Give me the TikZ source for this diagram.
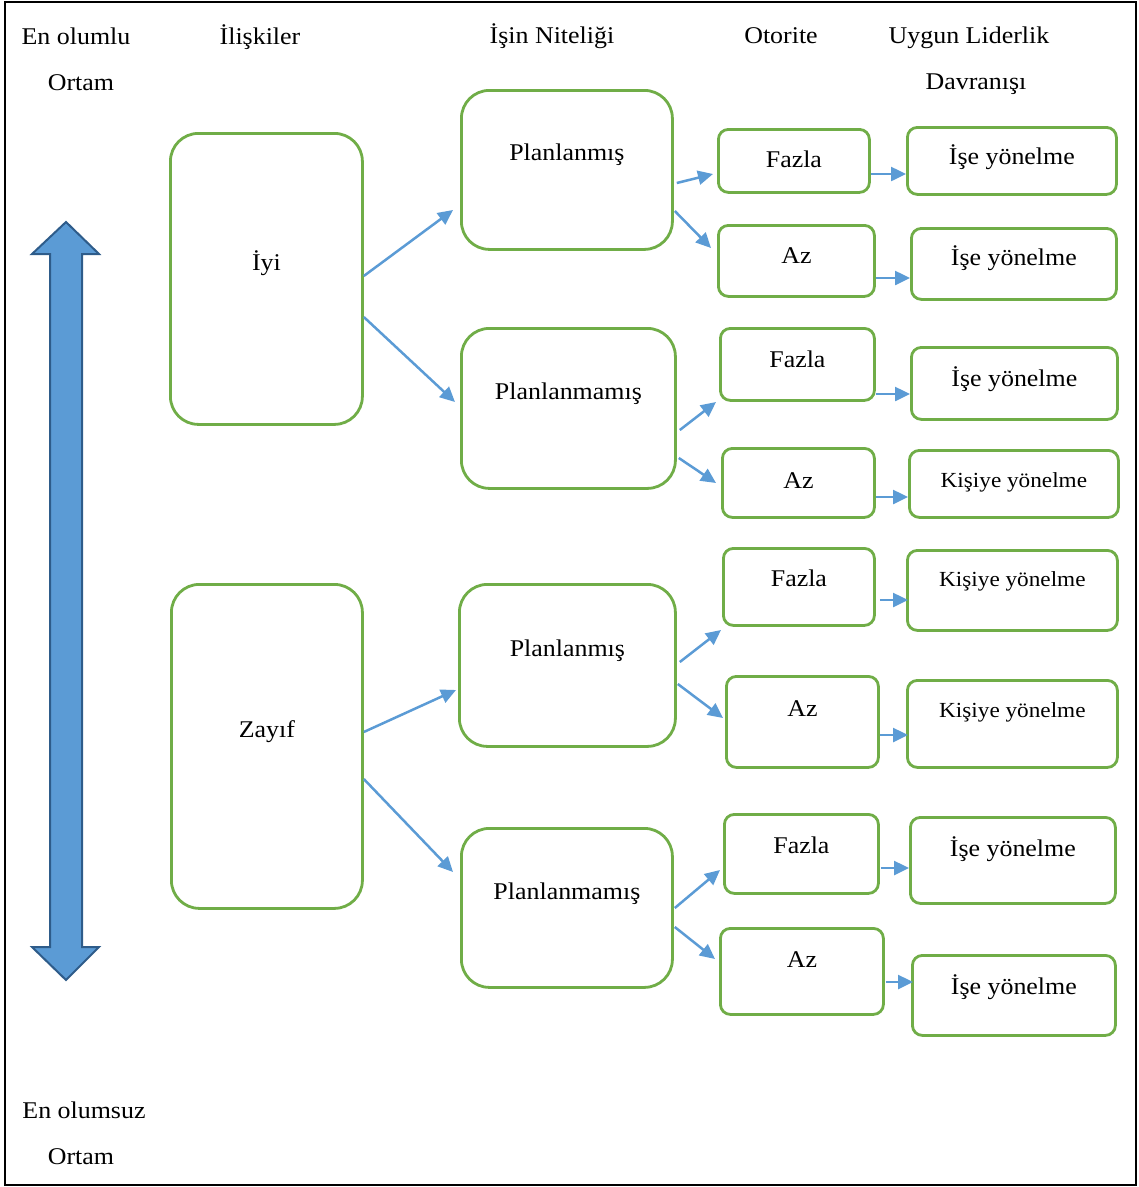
\documentclass[tikz,border=0pt]{standalone}
\usepackage{fontspec}
\setmainfont{Liberation Serif}[FakeStretch=1.08]
\usetikzlibrary{arrows.meta,calc}
\definecolor{boxgreen}{HTML}{70AD47}
\definecolor{arrblue}{HTML}{5B9BD5}
\definecolor{arrborder}{HTML}{2E5C8A}
\begin{document}
\begin{tikzpicture}[x=1pt,y=-1pt,
  box/.style={draw=boxgreen, line width=2.8pt, fill=white, inner sep=0pt, anchor=north west, font=\fontsize{24}{28}\selectfont},
  bigbox/.style={box, rounded corners=28pt},
  smallbox/.style={box, rounded corners=10pt},
  smalltext/.style={font=\fontsize{21.5}{26}\selectfont},
  conn/.style={draw=arrblue, line width=2.5pt, -{Triangle[length=15pt,width=14pt]}},
  hdr/.style={anchor=base, inner sep=0pt, font=\fontsize{24}{28}\selectfont}]
\useasboundingbox (0,0) rectangle (1139,1187);
\draw[line width=2pt] (5,2) rectangle (1136,1185);

% headers
\node[hdr] (h1) at (76,44) {En olumlu};
\node[hdr] (h1b) at (81,90) {Ortam};
\node[hdr] (h2) at (260,44) {İlişkiler};
\node[hdr] (h3) at (552,43) {İşin Niteliği};
\node[hdr] (h4) at (781,43) {Otorite};
\node[hdr] (h5) at (969,43) {Uygun Liderlik};
\node[hdr] (h5b) at (976,89) {Davranışı};
\node[hdr] (f1) at (84,1118) {En olumsuz};
\node[hdr] (f2) at (81,1164) {Ortam};

% big double arrow
\filldraw[fill=arrblue, draw=arrborder, line width=2pt, line join=miter]
  (50,254) -- (32,254) -- (66,222) -- (99,254) -- (82,254) -- (82,947)
  -- (99,947) -- (66,980) -- (32,947) -- (50,947) -- cycle;

% level 1
\node[bigbox, minimum width=192pt, text height=137pt, text depth=154pt] (iyi) at (169,132) {İyi};
\node[bigbox, minimum width=191pt, text height=153pt, text depth=171pt] (zayif) at (170,583) {Zayıf};

% level 2
\node[bigbox, minimum width=211pt, text height=70pt, text depth=89pt] (p1) at (460,89) {Planlanmış};
\node[bigbox, minimum width=214pt, text height=71pt, text depth=89pt] (p2) at (460,327) {Planlanmamış};
\node[bigbox, minimum width=216pt, text height=72pt, text depth=90pt] (p3) at (458,583) {Planlanmış};
\node[bigbox, minimum width=211pt, text height=71pt, text depth=88pt] (p4) at (460,827) {Planlanmamış};

% level 3
\node[smallbox, minimum width=151pt, text height=38pt, text depth=25pt] (o1) at (717,128) {Fazla};
\node[smallbox, minimum width=156pt, text height=38pt, text depth=33pt] (o2) at (717,224) {Az};
\node[smallbox, minimum width=154pt, text height=39pt, text depth=33pt] (o3) at (719,327) {Fazla};
\node[smallbox, minimum width=152pt, text height=40pt, text depth=29pt] (o4) at (721,447) {Az};
\node[smallbox, minimum width=151pt, text height=38pt, text depth=39pt] (o5) at (722,547) {Fazla};
\node[smallbox, minimum width=152pt, text height=40pt, text depth=51pt] (o6) at (725,675) {Az};
\node[smallbox, minimum width=154pt, text height=39pt, text depth=40pt] (o7) at (723,813) {Fazla};
\node[smallbox, minimum width=163pt, text height=39pt, text depth=47pt] (o8) at (719,927) {Az};

% level 4
\node[smallbox, minimum width=209pt, text height=37pt, text depth=30pt] (l1) at (906,126) {İşe yönelme};
\node[smallbox, minimum width=205pt, text height=37pt, text depth=34pt] (l2) at (910,227) {İşe yönelme};
\node[smallbox, minimum width=206pt, text height=39pt, text depth=33pt] (l3) at (910,346) {İşe yönelme};
\node[smallbox, smalltext, minimum width=209pt, text height=37pt, text depth=30pt] (l4) at (908,449) {Kişiye yönelme};
\node[smallbox, smalltext, minimum width=210pt, text height=36pt, text depth=44pt] (l5) at (906,549) {Kişiye yönelme};
\node[smallbox, smalltext, minimum width=210pt, text height=37pt, text depth=50pt] (l6) at (906,679) {Kişiye yönelme};
\node[smallbox, minimum width=205pt, text height=39pt, text depth=47pt] (l7) at (909,816) {İşe yönelme};
\node[smallbox, minimum width=203pt, text height=39pt, text depth=41pt] (l8) at (911,954) {İşe yönelme};

% connectors level 1 -> 2
\draw[conn] ($(iyi.north east)+(0,144)$) -- ($(p1.north west)+(-7,121)$);
\draw[conn] ($(iyi.north east)+(0,185)$) -- ($(p2.north west)+(-5,75)$);
\draw[conn] ($(zayif.north east)+(0,149)$) -- ($(p3.north west)+(-2,107)$);
\draw[conn] ($(zayif.north east)+(0,196)$) -- ($(p4.north west)+(-7,45)$);

% level 2 -> 3
\draw[conn] ($(p1.north east)+(3,94)$) -- ($(o1.north west)+(-4,46)$);
\draw[conn] ($(p1.north east)+(1,122)$) -- ($(o2.north west)+(-6,24)$);
\draw[conn] ($(p2.north east)+(3,103)$) -- ($(o3.north west)+(-3,75)$);
\draw[conn] ($(p2.north east)+(2,131)$) -- ($(o4.north west)+(-5,36)$);
\draw[conn] ($(p3.north east)+(3,79)$) -- ($(o5.north west)+(-1,83)$);
\draw[conn] ($(p3.north east)+(1,101)$) -- ($(o6.north west)+(-2,43)$);
\draw[conn] ($(p4.north east)+(1,81)$) -- ($(o7.north west)+(-3,57)$);
\draw[conn] ($(p4.north east)+(1,100)$) -- ($(o8.north west)+(-4,32)$);

% level 3 -> 4
\draw[conn] ($(o1.north east)+(0,46)$) -- ($(l1.north west)+(0,48)$);
\draw[conn] ($(o2.north east)+(0,54)$) -- ($(l2.north west)+(0,51)$);
\draw[conn] ($(o3.north east)+(0,67)$) -- ($(l3.north west)+(0,48)$);
\draw[conn] ($(o4.north east)+(0,50)$) -- ($(l4.north west)+(0,48)$);
\draw[conn] ($(o5.north east)+(4,53)$) -- ($(l5.north west)+(2,51)$);
\draw[conn] ($(o6.north east)+(0,60)$) -- ($(l6.north west)+(2,56)$);
\draw[conn] ($(o7.north east)+(1,55)$) -- ($(l7.north west)+(0,52)$);
\draw[conn] ($(o8.north east)+(1,55)$) -- ($(l8.north west)+(2,28)$);
\end{tikzpicture}
\end{document}
